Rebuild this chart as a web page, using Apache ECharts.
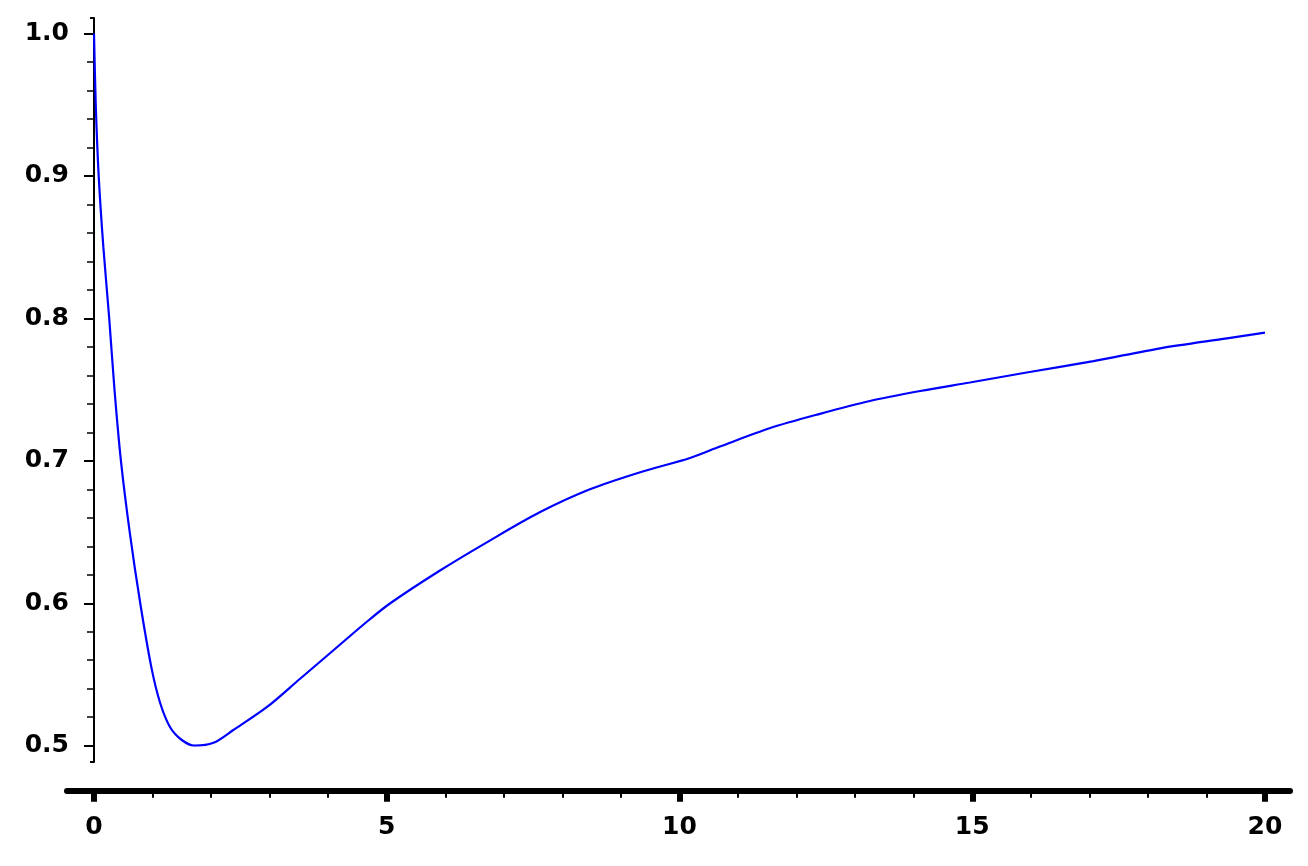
<!DOCTYPE html>
<html>
<head>
<meta charset="utf-8">
<script src="https://cdn.jsdelivr.net/npm/echarts@6/dist/echarts.min.js"></script>
<style>
  html, body { margin: 0; padding: 0; background: #ffffff; }
  #chart-container { width: 1308px; height: 866px; }
</style>
</head>
<body>
<div id="chart-container"></div>
<script>
// values
const xValues = [0, 0.03, 0.08, 0.16, 0.26, 0.35, 0.46, 0.61, 0.79, 0.98, 1.13, 1.30, 1.50, 1.72,
  2.04, 2.38, 2.95, 3.52, 4.09, 4.66, 5.06, 5.91, 6.76, 7.62, 8.47, 9.33, 10.18, 10.69,
  11.55, 12.40, 13.25, 14.11, 14.96, 15.93, 17.07, 18.21, 19.35, 20];
const yValues = [1.0, 0.95, 0.90, 0.85, 0.80, 0.75, 0.70, 0.65, 0.60, 0.555, 0.530, 0.513, 0.504, 0.500,
  0.502, 0.511, 0.527, 0.547, 0.567, 0.587, 0.600, 0.623, 0.644, 0.664, 0.680, 0.692, 0.702, 0.710,
  0.723, 0.733, 0.742, 0.749, 0.755, 0.762, 0.770, 0.779, 0.786, 0.790];
const xTicks = [0, 5, 10, 15, 20];
const yTicks = [0.5, 0.6, 0.7, 0.8, 0.9, 1.0];

const chartContainer = document.getElementById('chart-container');
const myChart = echarts.init(chartContainer, null, { renderer: 'canvas' });

const labelFont = {
  color: '#000',
  fontFamily: 'DejaVu Sans',
  fontWeight: 'bold',
  fontSize: 25
};

const curve = xValues.map((x, i) => [x, yValues[i]]);

let option = {
  animation: false,
  backgroundColor: '#fff',
  grid: [
    // plot area: x 0..20, y 0.5..1.0
    { left: 94, right: 43, top: 33.5, bottom: 120.3 },
    // long thick x axis line
    { left: 67, right: 18, top: 700, bottom: 75 },
    // y axis line with end caps
    { left: 94, right: 1100, top: 18, bottom: 104 }
  ],
  xAxis: [
    {
      gridIndex: 0,
      type: 'value',
      min: xTicks[0],
      max: xTicks[xTicks.length - 1],
      interval: 5,
      offset: 45,
      axisLine: { show: false },
      axisTick: { show: true, length: 11, lineStyle: { color: '#000', width: 6 } },
      minorTick: { show: true, splitNumber: 5, length: 7, lineStyle: { color: '#000', width: 2 } },
      splitLine: { show: false },
      axisLabel: Object.assign({ margin: 24 }, labelFont)
    },
    {
      gridIndex: 1,
      type: 'value',
      min: 0,
      max: 1,
      axisLine: { show: true, lineStyle: { color: '#000', width: 6 } },
      axisTick: { show: false },
      axisLabel: { show: false },
      splitLine: { show: false }
    },
    {
      gridIndex: 2,
      type: 'value',
      show: false
    }
  ],
  yAxis: [
    {
      gridIndex: 0,
      type: 'value',
      min: yTicks[0],
      max: yTicks[yTicks.length - 1],
      interval: 0.1,
      axisLine: { show: false },
      axisTick: { show: true, length: 10, lineStyle: { color: '#000', width: 2 } },
      minorTick: { show: true, splitNumber: 5, length: 7, lineStyle: { color: '#000', width: 1.5 } },
      splitLine: { show: false },
      axisLabel: Object.assign({ margin: 25, formatter: v => v.toFixed(1) }, labelFont)
    },
    {
      gridIndex: 1,
      type: 'value',
      show: false
    },
    {
      gridIndex: 2,
      type: 'value',
      min: 0,
      max: 1,
      interval: 1,
      axisLine: { show: true, lineStyle: { color: '#000', width: 2 } },
      axisTick: { show: true, length: 4, lineStyle: { color: '#000', width: 2 } },
      axisLabel: { show: false },
      splitLine: { show: false }
    }
  ],
  series: [
    {
      type: 'line',
      xAxisIndex: 0,
      yAxisIndex: 0,
      data: curve,
      showSymbol: false,
      smooth: 0.3,
      lineStyle: { color: '#0000ff', width: 2.2 }
    }
  ]
};

myChart.setOption(option);
window.addEventListener('resize', myChart.resize);
</script>
</body>
</html>
